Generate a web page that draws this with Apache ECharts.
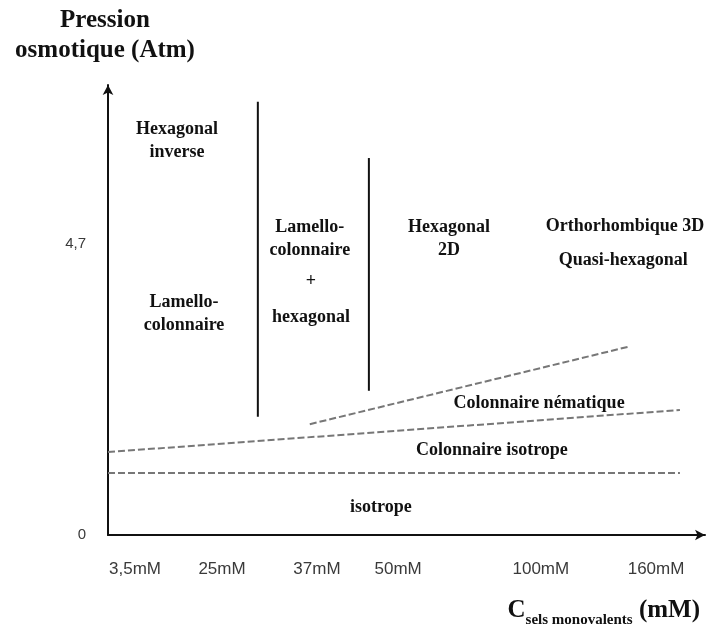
<!DOCTYPE html>
<html>
<head>
<meta charset="utf-8">
<script src="https://cdn.jsdelivr.net/npm/echarts@6/dist/echarts.min.js"></script>
<style>html,body{margin:0;padding:0;background:#fff}#c{width:707px;height:627px}</style>
</head>
<body>
<div id="c"></div>
<script>
// ---- data ----
const xTickLabels = ['3,5mM', '25mM', '37mM', '50mM', '100mM', '160mM'];
const xTickPos = [4.52, 19.1, 35.0, 48.6, 72.5, 91.8];
const yTickVals = [0, 4.7];
const yTickLabels = ['0', '4,7'];

// phase boundaries [x, y] in axis units
const solidBoundary1 = [[25.1, 1.91], [25.1, 7.0]];
const solidBoundary2 = [[43.7, 2.33], [43.7, 6.09]];
const dashedNematic = [[0, 1.34], [95.8, 2.02]];
const dashedHexagonal = [[33.8, 1.79], [87.1, 3.04]];
const dashedIsotrope = [[0, 1.0], [95.8, 1.0]];

// phase labels [x, y, text]
const phaseLabels = [
  [11.56, 6.37, 'Hexagonal\ninverse'],
  [12.73, 3.57, 'Lamello-\ncolonnaire'],
  [33.8, 4.79, 'Lamello-\ncolonnaire'],
  [34.0, 4.09, '+'],
  [34.0, 3.52, 'hexagonal'],
  [57.1, 4.79, 'Hexagonal\n2D'],
  [86.6, 4.98, 'Orthorhombique 3D'],
  [86.3, 4.44, 'Quasi-hexagonal'],
  [72.2, 2.13, 'Colonnaire nématique'],
  [64.3, 1.36, 'Colonnaire isotrope'],
  [45.7, 0.45, 'isotrope']
];

const serif = '"Liberation Serif", "DejaVu Serif", serif';
const sans = '"Liberation Sans", Arial, sans-serif';
const chart = echarts.init(document.getElementById('c'), null, {renderer: 'canvas'});

function solid(d) {
  return {type: 'line', data: d, symbol: 'none', silent: true,
    lineStyle: {color: '#111', width: 2, type: 'solid'}};
}
function dashed(d) {
  return {type: 'line', data: d, symbol: 'none', silent: true,
    lineStyle: {color: '#777', width: 2, type: [7, 3]}};
}

chart.setOption({
  animation: false,
  backgroundColor: '#fff',
  grid: {left: 108, right: 2, top: 85, bottom: 92, containLabel: false, outerBoundsMode: 'none'},
  xAxis: {
    type: 'value', min: 0, max: 100,
    splitLine: {show: false},
    axisTick: {show: false},
    axisLine: {show: true, onZero: false, symbol: ['none', 'arrow'], symbolSize: [8, 10],
      lineStyle: {color: '#111', width: 2}},
    axisLabel: {
      customValues: xTickPos,
      formatter: function (v) { const i = xTickPos.indexOf(v); return i >= 0 ? xTickLabels[i] : ''; },
      margin: 26, color: '#3a3a3a', fontSize: 17, fontFamily: sans
    }
  },
  yAxis: {
    type: 'value', min: 0, max: 7.27,
    splitLine: {show: false},
    axisTick: {show: false},
    axisLine: {show: true, onZero: false, symbol: ['none', 'arrow'], symbolSize: [8, 10],
      lineStyle: {color: '#111', width: 2}},
    axisLabel: {
      customValues: yTickVals,
      formatter: function (v) { const i = yTickVals.indexOf(v); return i >= 0 ? yTickLabels[i] : ''; },
      margin: 22, color: '#3a3a3a', fontSize: 15, fontFamily: sans
    },
    name: 'Pression\nosmotique (Atm)',
    nameLocation: 'end',
    nameGap: 19,
    nameTextStyle: {fontFamily: serif, fontWeight: 'bold', fontSize: 25, color: '#111',
      lineHeight: 30, align: 'center', padding: [0, 0, 0, -6]}
  },
  graphic: [{
    type: 'text', right: 7, top: 598,
    style: {
      text: '{big|C}{sub|sels monovalents}{big| (mM)}',
      rich: {
        big: {fontFamily: serif, fontWeight: 'bold', fontSize: 25, fill: '#111', verticalAlign: 'bottom'},
        sub: {fontFamily: serif, fontWeight: 'bold', fontSize: 15, fill: '#111', verticalAlign: 'bottom', padding: [0, 0, -5, 0]}
      }
    }
  }],
  series: [
    solid(solidBoundary1),
    solid(solidBoundary2),
    dashed(dashedNematic),
    dashed(dashedHexagonal),
    dashed(dashedIsotrope),
    {
      type: 'scatter', symbolSize: 0, silent: true,
      itemStyle: {opacity: 1, color: '#111'},
      data: phaseLabels.map(p => ({value: [p[0], p[1]], name: p[2]})),
      label: {
        show: true, position: 'inside', opacity: 1,
        formatter: function (p) { return p.name; },
        fontFamily: serif, fontWeight: 'bold', fontSize: 18, color: '#111',
        lineHeight: 23, align: 'center', verticalAlign: 'middle'
      }
    }
  ]
});
</script>
</body>
</html>
